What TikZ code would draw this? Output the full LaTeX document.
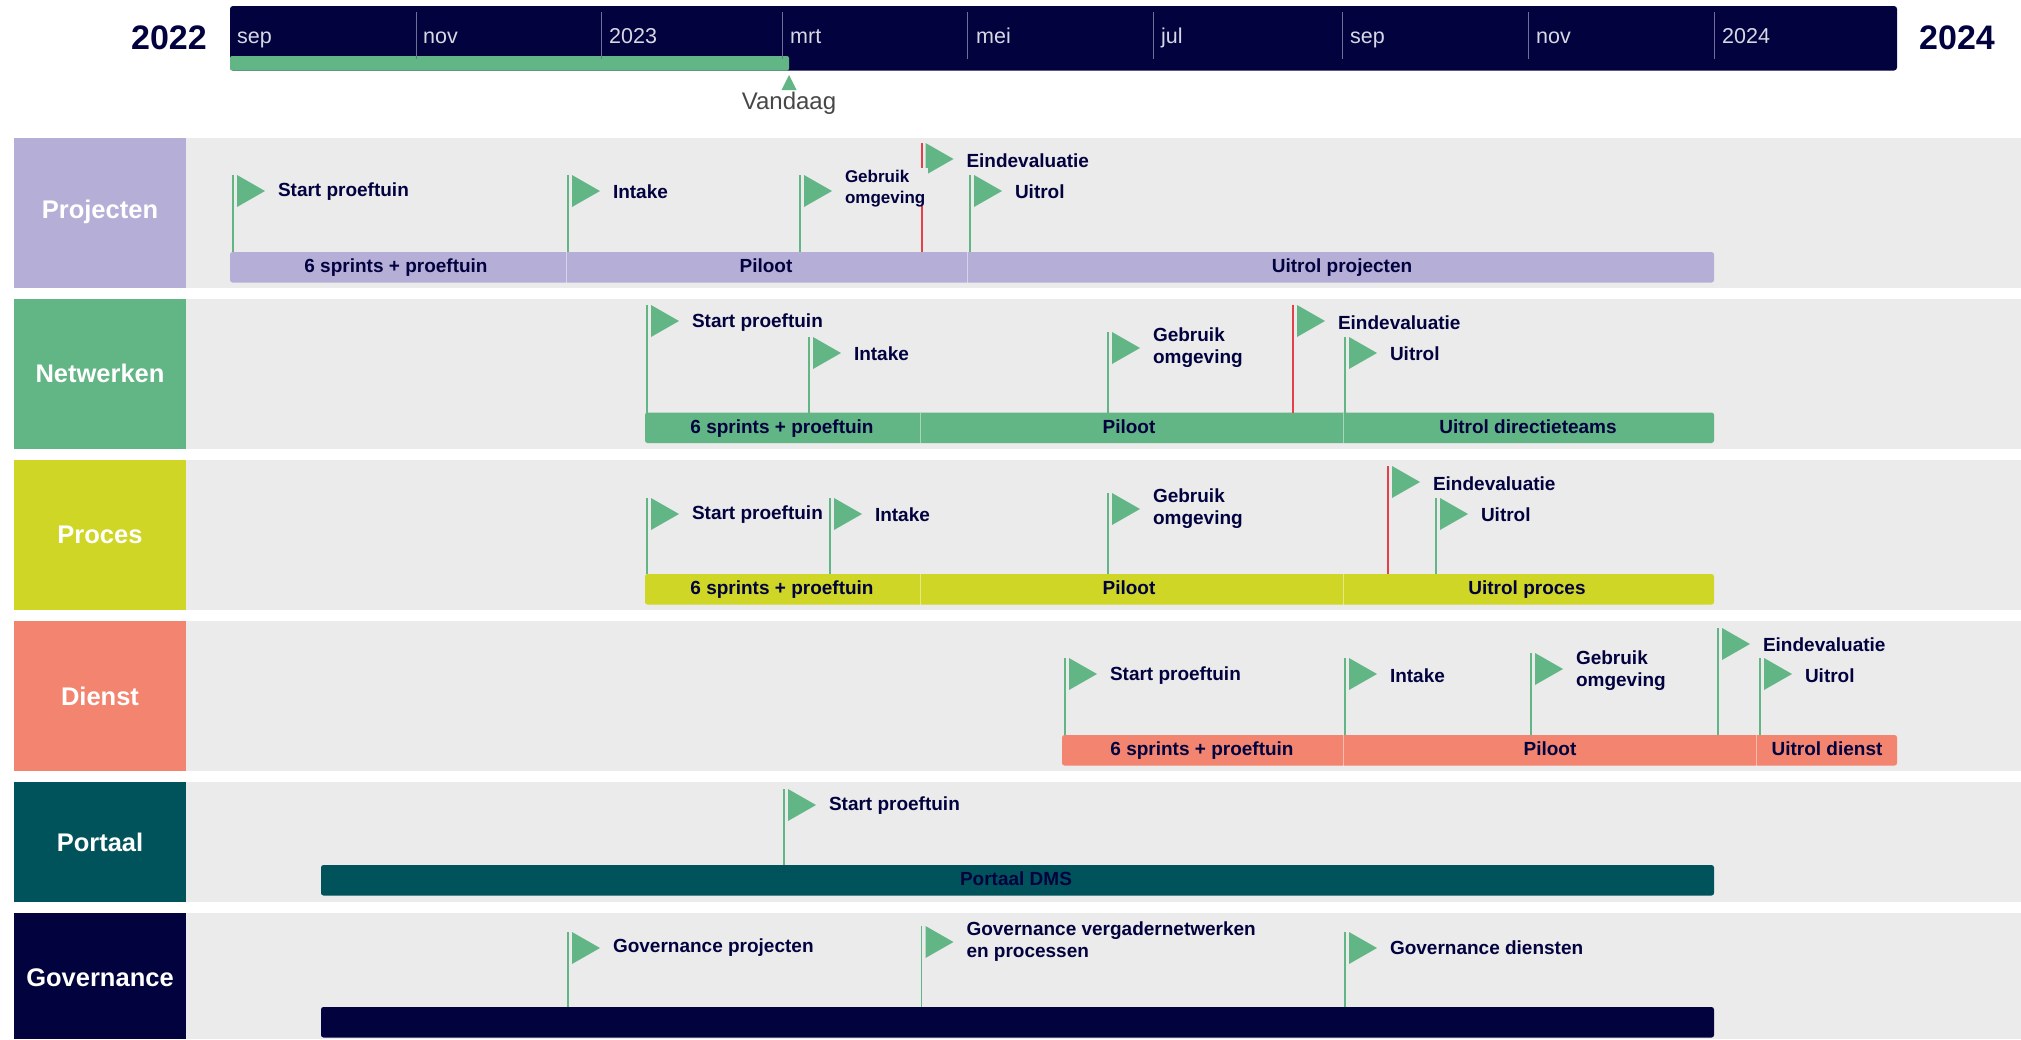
\documentclass[tikz,border=0pt]{standalone}
\usepackage{fontspec}
\setmainfont{Liberation Sans}
\definecolor{navy}{HTML}{02023F}
\definecolor{flaggreen}{HTML}{62B585}
\definecolor{lilac}{HTML}{B5AED6}
\definecolor{lime}{HTML}{CFD626}
\definecolor{salmon}{HTML}{F28470}
\definecolor{teal2}{HTML}{00535A}
\definecolor{rowbg}{HTML}{EBEBEB}
\definecolor{redline}{HTML}{E5404A}
\definecolor{ticklight}{HTML}{6E6E96}
\definecolor{monthtext}{HTML}{D8D8E4}
\tikzset{
  x=1pt,y=-1pt,
  rowhead/.style={inner sep=0,outer sep=0,anchor=north west,minimum width=172pt,font=\fontsize{25.5}{28}\selectfont\bfseries,text=white},
  rowback/.style={fill=rowbg,draw=none},
  barshape/.style={inner sep=0,outer sep=0,anchor=north west,minimum height=30.5pt,rounded corners=2.5pt},
  barlabel/.style={inner sep=0,font=\fontsize{19}{22}\selectfont\bfseries,text=navy,text height=14pt,text depth=4pt},
  flagtext/.style={inner sep=0,outer sep=0,anchor=west,align=left,font=\fontsize{19}{22}\selectfont\bfseries,text=navy},
  flagsmall/.style={flagtext,font=\fontsize{17}{21}\selectfont\bfseries},
  pole/.style={draw=flaggreen,line width=1.5pt},
  redpole/.style={draw=redline,line width=2pt},
  seg/.style={draw=white,draw opacity=.45,line width=1pt},
  month/.style={inner sep=0,anchor=west,font=\fontsize{21.5}{24}\selectfont,text=monthtext,text height=15pt,text depth=5pt},
  yearlabel/.style={inner sep=0,font=\fontsize{34}{38}\selectfont\bfseries,text=navy},
  tick/.style={draw=ticklight,line width=1pt},
}
% name, x, top, bar, text y, pole style, text style, text
\newcommand{\flagm}[8]{%
  \coordinate (#1top) at (#2,#3);
  \draw[#6] (#1top) -- (#1top |- #4.north);
  \fill[flaggreen] (#2+4,#3) -- (#2+32,#3+16) -- (#2+4,#3+32) -- cycle;
  \node[#7] (#1) at (#2+45,#5+2) {#8};
}
\newcommand{\rowm}[6]{% name, top, bottom, colour, text, text y
  \fill[rowback] (186,#2) rectangle (2021,#3);
  \fill[#4] (14,#2) rectangle (186,#3);
  \node[inner sep=0,font=\fontsize{25.5}{28}\selectfont\bfseries,text=white] (#1) at (100,#6) {#5};
}
\newcommand{\barm}[6]{% name,x1,x2,top,colour
  \node[barshape,fill=#5,minimum width={(#3-#2)*1pt}] (#1) at (#2,#4) {};
}
\begin{document}
\begin{tikzpicture}
\useasboundingbox (0,0) rectangle (2021,1039);
\fill[white] (0,0) rectangle (2021,1039);
% timeline
\fill[navy,rounded corners=3pt] (230,6) rectangle (1897,70.5);
\fill[flaggreen,rounded corners=2pt] (230,56) rectangle (789,70.5);
\foreach \tx in {416,601,782,967,1153,1342,1528,1714}{\draw[tick] (\tx,12) -- (\tx,59);}
\node[month] (m1) at (237,38) {sep};
\node[month] (m2) at (423,38) {nov};
\node[month] (m3) at (609,38) {2023};
\node[month] (m4) at (790,38) {mrt};
\node[month] (m5) at (976,38) {mei};
\node[month] (m6) at (1161,38) {jul};
\node[month] (m7) at (1350,38) {sep};
\node[month] (m8) at (1536,38) {nov};
\node[month] (m9) at (1722,38) {2024};
\node[yearlabel] (y1) at (169,38) {2022};
\node[yearlabel] (y2) at (1957,38) {2024};
\fill[flaggreen] (789,75) -- (796.5,90) -- (781.5,90) -- cycle;
\node[inner sep=0,font=\fontsize{24}{28}\selectfont,text=black!72] (today) at (789,103) {Vandaag};
% rows
\rowm{rProj}{137.5}{288}{lilac}{Projecten}{212}
\rowm{rNet}{299}{449}{flaggreen}{Netwerken}{373}
\rowm{rProc}{460}{610}{lime}{Proces}{535}
\rowm{rDienst}{621}{771}{salmon}{Dienst}{696}
\rowm{rPort}{782}{902}{teal2}{Portaal}{842}
\rowm{rGov}{913}{1039}{navy}{Governance}{978}
% bars
\barm{bProj}{230}{1714}{252}{lilac}{}
\barm{bNet}{645}{1714}{412.5}{flaggreen}{}
\barm{bProc}{645}{1714}{574}{lime}{}
\barm{bDienst}{1062}{1897}{735}{salmon}{}
\barm{bPort}{321}{1714}{865}{teal2}{}
\barm{bGov}{321}{1714}{1007}{navy}{}
\foreach \sx/\st in {566/252,967/252,920/412.5,1343/412.5,920/574,1343/574,1343/735,1756/735}{\draw[seg] (\sx,\st) -- (\sx,\st+30.5);}
% bar labels
\node[barlabel] (l1) at (396,267) {6 sprints + proeftuin};
\node[barlabel] (l2) at (766,267) {Piloot};
\node[barlabel] (l3) at (1342,267) {Uitrol projecten};
\node[barlabel] (l4) at (782,428) {6 sprints + proeftuin};
\node[barlabel] (l5) at (1129,428) {Piloot};
\node[barlabel] (l6) at (1528,428) {Uitrol directieteams};
\node[barlabel] (l7) at (782,589) {6 sprints + proeftuin};
\node[barlabel] (l8) at (1129,589) {Piloot};
\node[barlabel] (l9) at (1527,589) {Uitrol proces};
\node[barlabel] (l10) at (1202,750) {6 sprints + proeftuin};
\node[barlabel] (l11) at (1550,750) {Piloot};
\node[barlabel] (l12) at (1827,750) {Uitrol dienst};
\node[barlabel] (l13) at (1016,880) {Portaal DMS};
% Projecten
\flagm{pa}{233}{175}{bProj}{190}{pole}{flagtext}{Start proeftuin}
\flagm{pb}{568}{175}{bProj}{190}{pole}{flagtext}{Intake}
\flagm{pe}{921.5}{143}{bProj}{159}{redpole}{flagtext}{Eindevaluatie}
\fill[rowbg] (845,168) rectangle (928,206);
\flagm{pc}{800}{175}{bProj}{187}{pole}{flagsmall}{\strut Gebruik\\\strut omgeving}
\flagm{pd}{970}{175}{bProj}{190}{pole}{flagtext}{Uitrol}
% Netwerken
\flagm{na}{647}{305}{bNet}{321}{pole}{flagtext}{Start proeftuin}
\flagm{nb}{809}{337}{bNet}{352}{pole}{flagtext}{Intake}
\flagm{nc}{1108}{332}{bNet}{346}{pole}{flagtext}{\strut Gebruik\\\strut omgeving}
\flagm{ne}{1293}{305}{bNet}{321}{redpole}{flagtext}{Eindevaluatie}
\flagm{nd}{1345}{337}{bNet}{352}{pole}{flagtext}{Uitrol}
% Proces
\flagm{ra}{647}{498}{bProc}{513}{pole}{flagtext}{Start proeftuin}
\flagm{rb}{830}{498}{bProc}{513}{pole}{flagtext}{Intake}
\flagm{rc}{1108}{493}{bProc}{507}{pole}{flagtext}{\strut Gebruik\\\strut omgeving}
\flagm{re}{1388}{466}{bProc}{482}{redpole}{flagtext}{Eindevaluatie}
\flagm{rd}{1436}{498}{bProc}{513}{pole}{flagtext}{Uitrol}
% Dienst
\flagm{da}{1065}{658}{bDienst}{674}{pole}{flagtext}{Start proeftuin}
\flagm{db}{1345}{658}{bDienst}{674}{pole}{flagtext}{Intake}
\flagm{dc}{1531}{653}{bDienst}{669}{pole}{flagtext}{\strut Gebruik\\\strut omgeving}
\flagm{de}{1718}{628}{bDienst}{643}{pole}{flagtext}{Eindevaluatie}
\flagm{dd}{1760}{658}{bDienst}{674}{pole}{flagtext}{Uitrol}
% Portaal
\flagm{oa}{784}{789}{bPort}{804}{pole}{flagtext}{Start proeftuin}
% Governance
\flagm{ga}{568}{932}{bGov}{946}{pole}{flagtext}{Governance projecten}
\flagm{gb}{921.5}{926}{bGov}{940}{pole}{flagtext}{\strut Governance vergadernetwerken\\\strut en processen}
\flagm{gc}{1345}{932}{bGov}{946}{pole}{flagtext}{Governance diensten}
\end{tikzpicture}
\end{document}
